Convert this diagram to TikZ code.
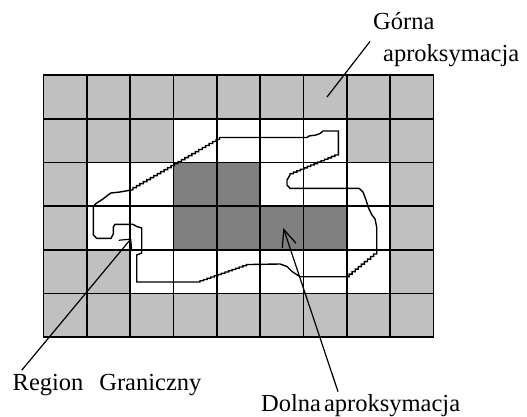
\documentclass[tikz,border=0pt]{standalone}
\usepackage{fontspec}
\setmainfont{Liberation Serif}
\usetikzlibrary{arrows.meta}
\definecolor{uppercell}{RGB}{192,192,192}
\definecolor{lowercell}{RGB}{128,128,128}
\begin{document}
\begin{tikzpicture}[x=1pt,y=-1pt,
  gridline/.style={line width=1.8pt},
  outline/.style={line width=1.4pt, line join=miter},
  txt/.style={font=\fontsize{24.5}{28}\selectfont, inner sep=0pt, anchor=base west},
  pointer/.style={line width=1.2pt},
  ]
\useasboundingbox (0,0) rectangle (527,417);

% grid corners g-<column>-<row>
\foreach \i in {0,...,9}
  \foreach \j in {0,...,6}
    \coordinate (g-\i-\j) at ({43.5+\i*43.33},{75+\j*43.7});

% upper approximation: every cell, then the cells left white
\fill[uppercell] (g-0-0) rectangle (g-9-6);
\fill[white] (g-3-1) rectangle (g-7-2);
\fill[white] (g-1-2) rectangle (g-8-4);
\fill[white] (g-2-4) rectangle (g-8-5);
% lower approximation
\fill[lowercell] (g-3-2) rectangle (g-5-3);
\fill[lowercell] (g-3-3) rectangle (g-7-4);

% grid lines
\foreach \i in {1,...,8} \draw[gridline] (g-\i-0) -- (g-\i-6);
\foreach \j in {1,...,5} \draw[gridline] (g-0-\j) -- (g-9-\j);
\draw[gridline] (g-0-0) rectangle (g-9-6);

% the region
\draw[outline] (93.3,206.5) -- (93.3,235) -- (96.7,238.3) -- (111,238.3)
  -- (113.3,234) -- (113.3,227) -- (115,224.3) -- (133,224.3) -- (136.7,226.5)
  -- (141.7,228) -- (141.7,253) -- (136.7,255) -- (136.7,282) -- (200,282)
  \foreach \k in {1,...,14} { |- ++(3.571,-1.25) }
  -- (280,264) -- (287,266.5) -- (292,271.5) -- (300,276.7) -- (346,276.7)
  \foreach \k in {1,...,10} { -| ++(3.07,-2.52) }
  -- (376.7,227) -- (375,219) -- (372,215) -- (368.5,208) -- (366,200)
  -- (363,192) -- (359,188.3) -- (290,188.3) -- (287,185) -- (287,180) -- (290,175)
  \foreach \k in {1,...,14} { |- ++(3.45,-1.43) }
  -- (338.3,131) -- (323,131) -- (320,133.5) -- (316,135) -- (309,136)
  -- (307,137.5) -- (223,137.5)
  \foreach \k in {1,...,26} { -| ++(-3.4615,2.0077) }
  -- (120,192) -- (111,193) -- (108,195) -- (103,199) -- (96,203.5) -- cycle;

% labels
\node[txt] (gorna)  at (373,30)    {Górna};
\node[txt] (gorna2) at (383,61.5)  {aproksymacja};
\node[txt] (region) at (12.5,390.5) {Region\hspace{0.65em}Graniczny};
\node[txt] (dolna)  at (261,411.5) {Dolna\hspace{3pt}aproksymacja};

% pointed cells
\coordinate (tipG) at (327,97);
\coordinate (tipR) at (131.2,238.5);
\coordinate (tipD) at (283.3,228);

% leaders
\draw[pointer] (gorna2.north west) ++(-13,-2.8) -- (tipG);
\draw[pointer, -{Straight Barb[length=8.5pt,width=17pt]}]
  (region.north west) ++(9.2,-3.8) -- (tipR);
\draw[pointer, -{Straight Barb[length=17pt,width=14.5pt]}]
  (dolna.north west) ++(77,-2.7) -- (tipD);
\end{tikzpicture}
\end{document}
